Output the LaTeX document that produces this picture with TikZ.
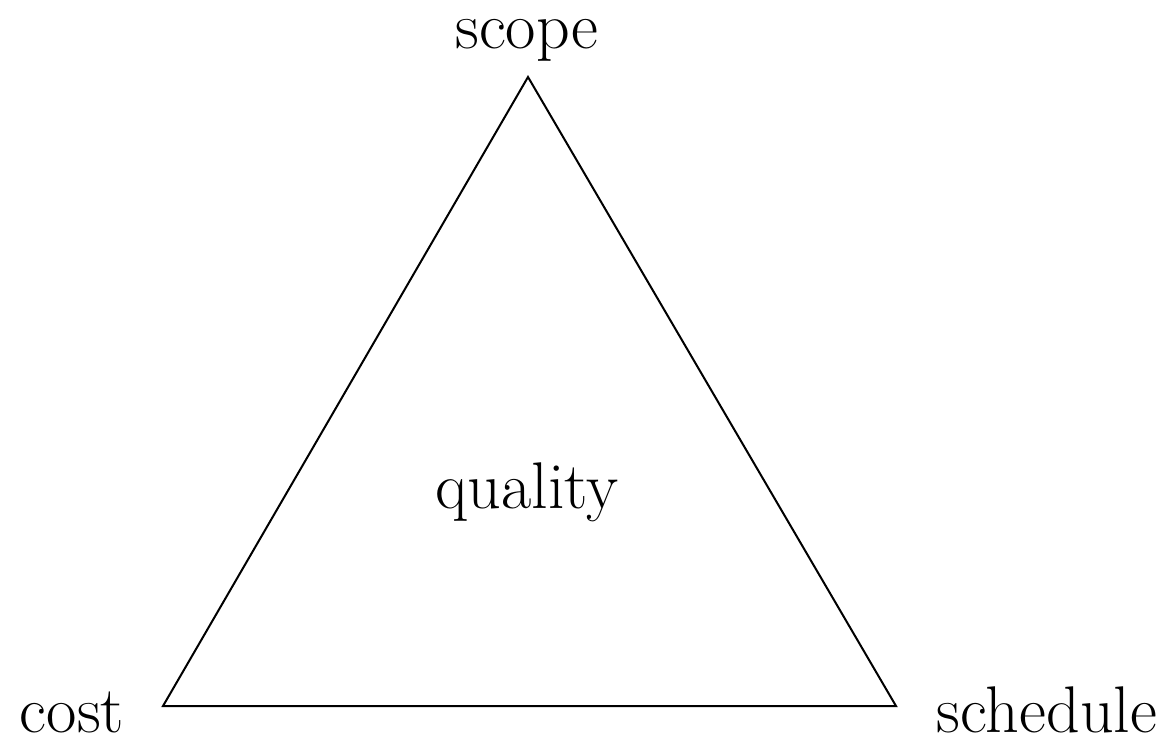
\documentclass[tikz,border=0pt]{standalone}
\begin{document}
\begin{tikzpicture}[x=1pt,y=-1pt,
  lbl/.style={anchor=base,inner sep=0pt,font=\fontsize{66}{78}\selectfont},
  edge/.style={line width=2pt,line join=miter}]
\useasboundingbox (0,0) rectangle (1172,740);
\coordinate (top) at (528,77);
\coordinate (bl) at (163,706);
\coordinate (br) at (896,706);
\draw[edge] (top) -- (bl) -- (br) -- cycle;
\node[lbl] (scope) at (527,48) {scope};
\node[lbl] (cost) at (72,732) {cost};
\node[lbl] (schedule) at (1047,732) {schedule};
\node[lbl] (quality) at (527,508) {quality};
\end{tikzpicture}
\end{document}
